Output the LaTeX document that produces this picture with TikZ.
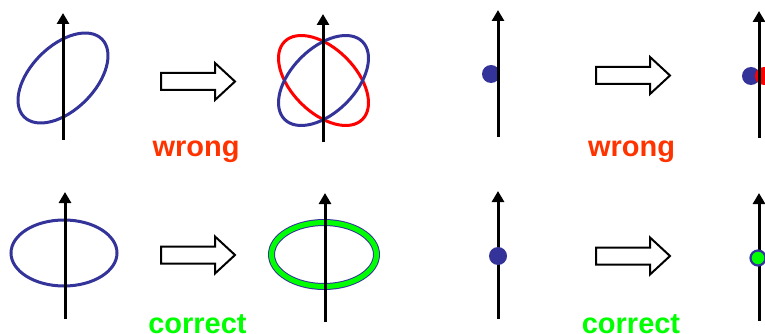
\documentclass[tikz,border=0pt]{standalone}
\usepackage{fontspec}
\setmainfont{Liberation Sans}
\usetikzlibrary{arrows.meta}
\definecolor{eblue}{HTML}{333399}
\definecolor{wrongred}{HTML}{FF3300}
\definecolor{okgreen}{HTML}{00FF00}
\begin{document}
\begin{tikzpicture}[x=1pt,y=-1pt,
  axisline/.style={line width=3pt,-{Triangle[width=12pt,length=11pt]}},
  bluering/.style={line width=3pt,draw=eblue},
  redring/.style={line width=3pt,draw=red},
  hollowarrow/.pic={\draw[line width=2pt,fill=white,line join=miter]
     (0,-8.5)--(54,-8.5)--(54,-18.5)--(74,0)--(54,18.5)--(54,8.5)--(0,8.5)--cycle;},
  lbl/.style={font=\fontsize{29}{29}\selectfont\bfseries, anchor=base, inner sep=0pt}]
\useasboundingbox (0,0) rectangle (765,334);
\clip (0,0) rectangle (765,334);
% ---------- top row ----------
% panel 1
\draw[bluering] (63,78) ellipse[x radius=55pt, y radius=32pt, rotate=45];
\coordinate (a1b) at (63,140); \coordinate (a1t) at (63,13);
\draw[axisline] (a1b) -- (a1t);
\pic at (161,81.5) {hollowarrow};
% panel 2
\draw[redring] (323.5,80.5) ellipse[x radius=55pt, y radius=32pt, rotate=-45];
\draw[bluering] (323.5,80.5) ellipse[x radius=55pt, y radius=32pt, rotate=45];
\coordinate (a2b) at (323,142); \coordinate (a2t) at (323,14);
\draw[axisline] (a2b) -- (a2t);
\node[lbl,text=wrongred] (w1) at (196,157) {wrong};
% panel 3
\fill[eblue] (491,74) circle[radius=9pt];
\coordinate (a3b) at (498,137); \coordinate (a3t) at (498,10);
\draw[axisline] (a3b) -- (a3t);
\pic at (596,75.5) {hollowarrow};
\node[lbl,text=wrongred] (w2) at (631.5,156) {wrong};
% panel 4
\fill[eblue] (751,76) circle[radius=9pt];
\fill[red] (764,76) circle[radius=9pt];
\coordinate (a4b) at (759,138); \coordinate (a4t) at (759,11);
\draw[axisline] (a4b) -- (a4t);
% ---------- bottom row ----------
% panel 5
\draw[bluering] (64,253) ellipse[x radius=53pt, y radius=33pt];
\coordinate (a5b) at (65,319); \coordinate (a5t) at (65,192);
\draw[axisline] (a5b) -- (a5t);
\pic at (161,255) {hollowarrow};
\node[lbl,text=okgreen] (c1) at (197.5,333) {correct};
% panel 6
\draw[line width=7pt,draw=eblue] (324,254.5) ellipse[x radius=52.5pt, y radius=32pt];
\draw[line width=5pt,draw=okgreen] (324,254.5) ellipse[x radius=52.5pt, y radius=32pt];
\coordinate (a6b) at (325,322); \coordinate (a6t) at (325,193);
\draw[axisline] (a6b) -- (a6t);
% panel 7
\coordinate (a7b) at (498,319); \coordinate (a7t) at (498,191);
\draw[axisline] (a7b) -- (a7t);
\fill[eblue] (498,256) circle[radius=9pt];
\pic at (596,256) {hollowarrow};
\node[lbl,text=okgreen] (c2) at (631,333) {correct};
% panel 8
\coordinate (a8b) at (759,321); \coordinate (a8t) at (759,193);
\draw[axisline] (a8b) -- (a8t);
\filldraw[fill=okgreen,draw=eblue,line width=2.2pt] (758,258) circle[radius=7.5pt];
\end{tikzpicture}
\end{document}
